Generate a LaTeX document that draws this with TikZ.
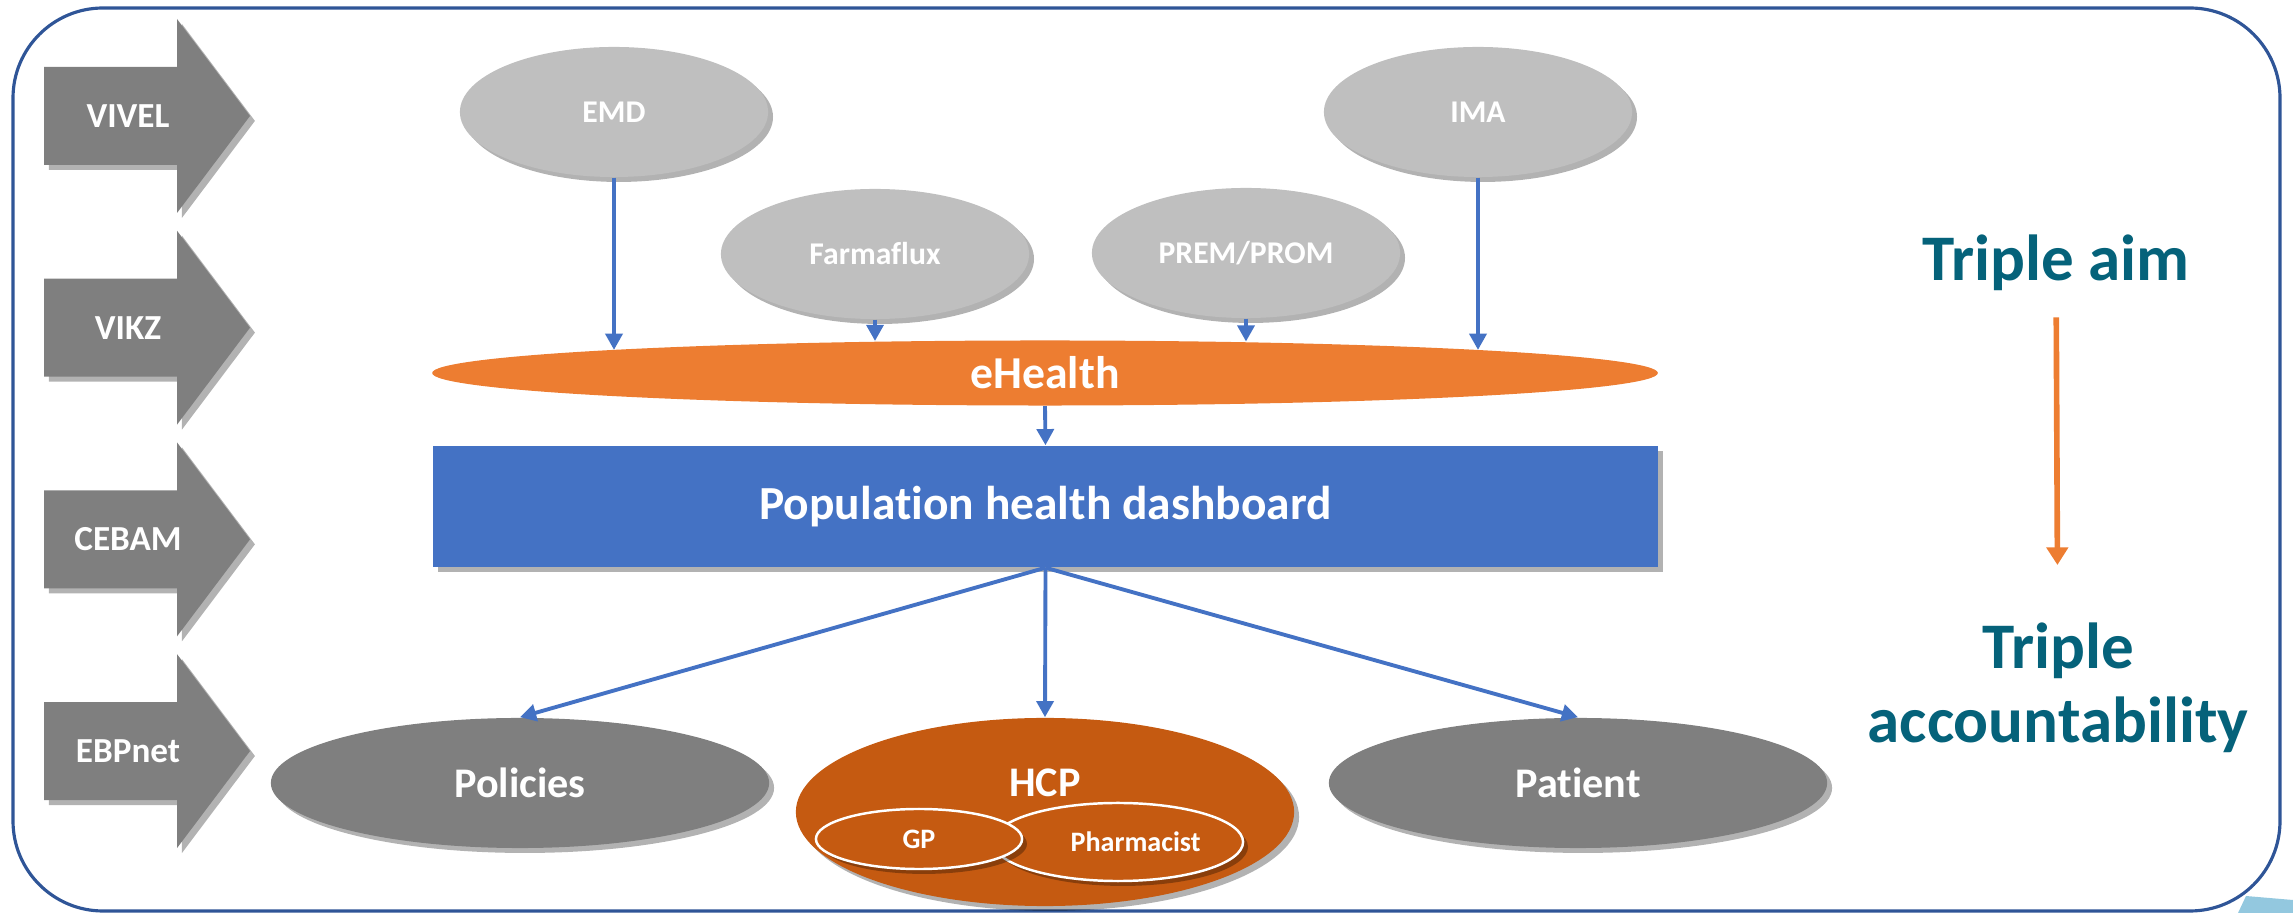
\documentclass[tikz,border=0pt]{standalone}
\usepackage{fontspec}
\setmainfont[Ligatures=NoCommon]{Carlito}
\usetikzlibrary{shapes.geometric, arrows.meta, shadows}
\definecolor{lightgrey}{HTML}{BFBFBF}
\definecolor{darkgrey}{HTML}{7F7F7F}
\definecolor{ehorange}{HTML}{ED7D31}
\definecolor{hcpbrown}{HTML}{C55A11}
\definecolor{boardblue}{HTML}{4472C4}
\definecolor{frameblue}{HTML}{2F5597}
\definecolor{aimteal}{HTML}{05627A}
\definecolor{paleblue}{RGB}{147,200,223}
\tikzset{
  softshadow/.style={drop shadow={shadow xshift=1.4pt, shadow yshift=-1.4pt, opacity=0.3, fill=black}},
  flow/.style={draw=boardblue, line width=1.1pt, -{Triangle[length=4.6pt, width=4.8pt]}},
  aimflow/.style={draw=ehorange, line width=1.6pt, -{Triangle[length=5pt, width=6pt]}},
}
\begin{document}
\begin{tikzpicture}[x=0.01cm, y=-0.01cm,
  tag/.style={text=white, font=\bfseries\fontsize{10}{12}\selectfont},
  source/.style={ellipse, fill=lightgrey, text=white, inner sep=0pt, minimum width=3.08cm, minimum height=1.3cm, softshadow, font=\bfseries\fontsize{9}{11}\selectfont},
  hub/.style={ellipse, fill=ehorange, text=white, inner sep=0pt, minimum width=12.25cm, minimum height=0.65cm, font=\bfseries\fontsize{13}{15}\selectfont},
  board/.style={rectangle, fill=boardblue, text=white, minimum width=12.25cm, minimum height=1.21cm, softshadow, font=\bfseries\fontsize{13.5}{15}\selectfont},
  target/.style={ellipse, fill=darkgrey, text=white, inner sep=0pt, minimum width=4.98cm, minimum height=1.3cm, softshadow, font=\bfseries\fontsize{12}{14}\selectfont},
  hcpblob/.style={ellipse, fill=hcpbrown, inner sep=0pt, minimum width=4.98cm, minimum height=1.88cm, softshadow},
  member/.style={ellipse, draw=white, line width=0.7pt, fill=hcpbrown, text=white, inner sep=0pt, softshadow, font=\bfseries\fontsize{8}{10}\selectfont},
  aimtext/.style={text=aimteal, align=center, font=\bfseries\fontsize{18.5}{21}\selectfont}]
\useasboundingbox (0,0) rectangle (2293,913);
\fill[paleblue] (2238,913) -- (2246,896) -- (2293,900) -- (2293,913) -- cycle;
\draw[frameblue, line width=0.9pt, rounded corners=0.9cm] (13,8) rectangle (2280,911);

% partner arrows on the left
\foreach \lab [count=\i from 0] in {VIVEL,VIKZ,CEBAM,EBPnet} {
  \pgfmathsetmacro\yc{116+211.7*\i}
  \fill[darkgrey, softshadow] (44,\yc-49) -- (177,\yc-49) -- (177,\yc-97) -- (250,\yc)
    -- (177,\yc+97) -- (177,\yc+49) -- (44,\yc+49) -- cycle;
  \node[tag] (tag\i) at (128,\yc) {\lab};
}

% data sources
\node[source] (emd) at (614,112) {EMD};
\node[source] (ima) at (1478,112) {IMA};
\node[source] (farma) at (875,254) {Farmaflux};
\node[source] (prem) at (1246,253) {PREM/PROM};
\node[hub] (ehealth) at (1045,373) {eHealth};
\node[board] (dash) at (1045.5,506.5) {Population health dashboard};

% users
\node[target] (pol) at (520,783) {Policies};
\node[target] (pat) at (1578,783) {Patient};
\node[hcpblob] (hcp) at (1045,812) {};
\node[text=white, font=\bfseries\fontsize{12}{14}\selectfont] (hcplab) at (1045,783) {HCP};
\node[member, minimum width=2.5cm, minimum height=0.78cm] (pharm) at (1118,842) {\hspace{10pt}Pharmacist};
\node[member, minimum width=2.06cm, minimum height=0.6cm] (gp) at (919,839) {GP};

\draw[flow] (emd.south) -- (emd.south |- ehealth.177);
\draw[flow] (farma.south) -- (farma.south |- ehealth.169);
\draw[flow] (prem.south) -- (prem.south |- ehealth.9);
\draw[flow] (ima.south) -- (ima.south |- ehealth.3);
\draw[flow] (ehealth.south) -- (dash.north);
\foreach \t in {pol,hcp,pat}
  \draw[flow] (dash.south) -- (\t.north);

% aims
\node[aimtext] (aim) at (2056,263) {Triple aim};
\node[aimtext] (acc) at (2058,688) {Triple\\accountability};
\draw[aimflow, shorten <=4pt, shorten >=13pt] (aim) -- (acc);
\end{tikzpicture}
\end{document}
